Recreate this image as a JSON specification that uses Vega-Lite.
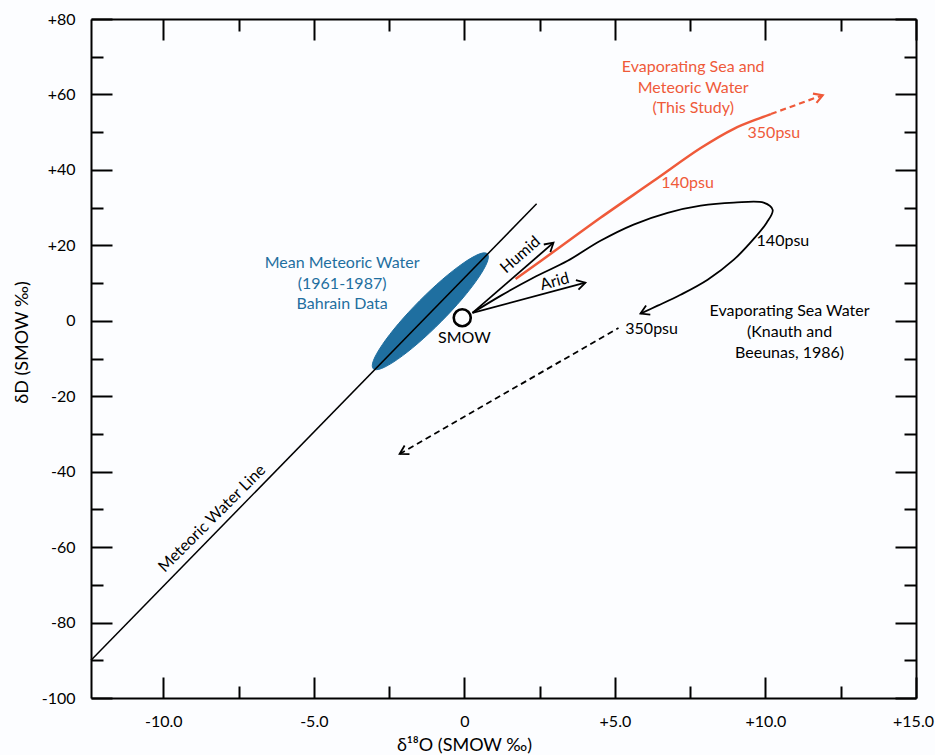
{
  "$schema": "https://vega.github.io/schema/vega-lite/v6.json",
  "width": 825,
  "height": 679,
  "autosize": {"type": "none"},
  "padding": {"left": 91, "top": 19, "right": 19, "bottom": 57},
  "background": "#fcfdff",
  "config": {
    "view": {"stroke": null},
    "font": "Lato",
    "axis": {
      "grid": false,
      "domainColor": "black",
      "domainWidth": 2,
      "tickColor": "black",
      "tickWidth": 2,
      "labelFont": "Lato",
      "labelFontSize": 16,
      "labelColor": "black",
      "titleFont": "Lato",
      "titleFontSize": 18,
      "titleFontWeight": "normal",
      "titleColor": "black",
      "labelFlush": false,
      "labelOverlap": false,
      "labelBound": false
    }
  },
  "datasets": {
    "mwl": [{"x": -12.4, "y": -90}, {"x": 2.4, "y": 31}],
    "ellipse": [
      {"i": 0, "x": 0.765, "y": 17.75},
      {"i": 1, "x": 0.757, "y": 15.52},
      {"i": 2, "x": 0.459, "y": 11.31},
      {"i": 3, "x": -0.076, "y": 5.77},
      {"i": 4, "x": -0.777, "y": -0.28},
      {"i": 5, "x": -1.53, "y": -5.91},
      {"i": 6, "x": -2.221, "y": -10.23},
      {"i": 7, "x": -2.747, "y": -12.64},
      {"i": 8, "x": -3.026, "y": -12.72},
      {"i": 9, "x": -3.018, "y": -10.49},
      {"i": 10, "x": -2.72, "y": -6.28},
      {"i": 11, "x": -2.185, "y": -0.74},
      {"i": 12, "x": -1.485, "y": 5.31},
      {"i": 13, "x": -0.732, "y": 10.94},
      {"i": 14, "x": -0.04, "y": 15.26},
      {"i": 15, "x": 0.486, "y": 17.67}
    ],
    "loop": [
      {"i": 0, "x": 0.27, "y": 2.1},
      {"i": 1, "x": 1.2, "y": 6.6},
      {"i": 2, "x": 2.29, "y": 11.4},
      {"i": 3, "x": 3.43, "y": 15.9},
      {"i": 4, "x": 4.52, "y": 21.2},
      {"i": 5, "x": 5.62, "y": 25.5},
      {"i": 6, "x": 6.75, "y": 28.6},
      {"i": 7, "x": 7.85, "y": 30.5},
      {"i": 8, "x": 8.95, "y": 31.3},
      {"i": 9, "x": 9.94, "y": 31.3},
      {"i": 10, "x": 10.24, "y": 29.4},
      {"i": 11, "x": 10.04, "y": 26.0},
      {"i": 12, "x": 9.61, "y": 21.7},
      {"i": 13, "x": 8.95, "y": 16.2},
      {"i": 14, "x": 8.08, "y": 10.9},
      {"i": 15, "x": 7.18, "y": 6.9},
      {"i": 16, "x": 6.42, "y": 4.0},
      {"i": 17, "x": 5.85, "y": 1.9}
    ],
    "red": [
      {"i": 0, "x": 1.7, "y": 11.1},
      {"i": 1, "x": 3.19, "y": 19.6},
      {"i": 2, "x": 4.52, "y": 27.3},
      {"i": 3, "x": 6.29, "y": 37.1},
      {"i": 4, "x": 7.85, "y": 45.8},
      {"i": 5, "x": 8.95, "y": 50.9},
      {"i": 6, "x": 9.84, "y": 53.8},
      {"i": 7, "x": 10.18, "y": 54.8}
    ]
  },
  "resolve": {"axis": {"x": "independent", "y": "independent"}},
  "layer": [
    {
      "data": {"name": "ellipse"},
      "mark": {"type": "line", "fill": "#1f6fa0", "stroke": "#1f6fa0", "strokeWidth": 1, "interpolate": "cardinal-closed"},
      "encoding": {
        "x": {"field": "x", "type": "quantitative", "scale": {"domain": [-12.4, 15], "nice": false, "zero": false},
          "axis": {"orient": "bottom", "values": [-10, -5, 0, 5, 10, 15], "tickSize": -21, "labelPadding": 36,
            "labelOffset": {"condition": {"test": "datum.value == 15", "value": -3}, "value": 0},
            "labelExpr": "(datum.value > 0 ? '+' : (datum.value < 0 ? '-' : '')) + (datum.value == 0 ? '0' : format(abs(datum.value), '.1f'))",
            "title": "δ¹⁸O (SMOW ‰)", "titleX": 373, "titleY": 47, "titleBaseline": "middle"}},
        "y": {"field": "y", "type": "quantitative", "scale": {"domain": [-100, 80], "nice": false, "zero": false},
          "axis": {"orient": "left", "values": [-100, -80, -60, -40, -20, 0, 20, 40, 60, 80], "tickSize": -21, "labelPadding": 37,
            "labelExpr": "(datum.value > 0 ? '+' : (datum.value < 0 ? '-' : '')) + format(abs(datum.value), 'd')",
            "title": "δD (SMOW ‰)", "titleX": -69, "titleY": 323, "titleBaseline": "middle", "titleAngle": -90}},
        "order": {"field": "i", "type": "quantitative"}
      }
    },
    {
      "data": {"name": "mwl"},
      "mark": {"type": "line", "color": "black", "strokeWidth": 1.5},
      "encoding": {
        "x": {"field": "x", "type": "quantitative", "scale": {"domain": [-12.4, 15], "nice": false, "zero": false},
          "axis": {"orient": "bottom", "values": [-7.5, -2.5, 2.5, 7.5, 12.5], "tickSize": -12, "labels": false, "domain": false, "title": null}},
        "y": {"field": "y", "type": "quantitative", "scale": {"domain": [-100, 80], "nice": false, "zero": false},
          "axis": {"orient": "left", "values": [-90, -70, -50, -30, -10, 10, 30, 50, 70], "tickSize": -12, "labels": false, "domain": false, "title": null}}
      }
    },
    {
      "data": {"name": "loop"},
      "mark": {"type": "line", "color": "black", "strokeWidth": 1.8, "interpolate": "catmull-rom"},
      "encoding": {
        "x": {"field": "x", "type": "quantitative", "scale": {"domain": [-12.4, 15], "nice": false, "zero": false},
          "axis": {"orient": "top", "values": [-10, -5, 0, 5, 10, 15], "tickSize": -21, "labels": false, "title": null}},
        "y": {"field": "y", "type": "quantitative", "scale": {"domain": [-100, 80], "nice": false, "zero": false},
          "axis": {"orient": "right", "values": [-100, -80, -60, -40, -20, 0, 20, 40, 60, 80], "tickSize": -21, "labels": false, "title": null}},
        "order": {"field": "i", "type": "quantitative"}
      }
    },
    {
      "data": {"name": "red"},
      "mark": {"type": "line", "color": "#ef5a3a", "strokeWidth": 2.5, "interpolate": "catmull-rom"},
      "encoding": {
        "x": {"field": "x", "type": "quantitative", "scale": {"domain": [-12.4, 15], "nice": false, "zero": false},
          "axis": {"orient": "top", "values": [-7.5, -2.5, 2.5, 7.5, 12.5], "tickSize": -12, "labels": false, "domain": false, "title": null}},
        "y": {"field": "y", "type": "quantitative", "scale": {"domain": [-100, 80], "nice": false, "zero": false},
          "axis": {"orient": "right", "values": [-90, -70, -50, -30, -10, 10, 30, 50, 70], "tickSize": -12, "labels": false, "domain": false, "title": null}},
        "order": {"field": "i", "type": "quantitative"}
      }
    },
    {
      "data": {"values": [{"x": 10.18, "y": 54.8}, {"x": 11.9, "y": 59.8}]},
      "mark": {"type": "line", "color": "#ef5a3a", "strokeWidth": 2.2, "strokeDash": [6, 4]},
      "encoding": {
        "x": {"field": "x", "type": "quantitative", "axis": null},
        "y": {"field": "y", "type": "quantitative", "axis": null}
      }
    },
    {
      "data": {"values": [{"x": 0.27, "y": 2.1}, {"x": 2.96, "y": 20.7}]},
      "mark": {"type": "line", "color": "black", "strokeWidth": 1.8},
      "encoding": {
        "x": {"field": "x", "type": "quantitative", "axis": null},
        "y": {"field": "y", "type": "quantitative", "axis": null}
      }
    },
    {
      "data": {"values": [{"x": 0.27, "y": 2.1}, {"x": 4.02, "y": 10.1}]},
      "mark": {"type": "line", "color": "black", "strokeWidth": 1.8},
      "encoding": {
        "x": {"field": "x", "type": "quantitative", "axis": null},
        "y": {"field": "y", "type": "quantitative", "axis": null}
      }
    },
    {
      "data": {"values": [{"x": 5.12, "y": -1.9}, {"x": -2.15, "y": -35.3}]},
      "mark": {"type": "line", "color": "black", "strokeWidth": 1.8, "strokeDash": [6, 4]},
      "encoding": {
        "x": {"field": "x", "type": "quantitative", "axis": null},
        "y": {"field": "y", "type": "quantitative", "axis": null}
      }
    },
    {
      "data": {"values": [{"x": 2.96, "y": 20.7}]},
      "mark": {"type": "point", "shape": "M-1.7,-1L0,0L-1.7,1", "filled": false, "stroke": "black", "strokeWidth": 1.8, "size": 100, "angle": 319, "opacity": 1},
      "encoding": {"x": {"field": "x", "type": "quantitative", "axis": null}, "y": {"field": "y", "type": "quantitative", "axis": null}}
    },
    {
      "data": {"values": [{"x": 4.02, "y": 10.1}]},
      "mark": {"type": "point", "shape": "M-1.7,-1L0,0L-1.7,1", "filled": false, "stroke": "black", "strokeWidth": 1.8, "size": 100, "angle": 345, "opacity": 1},
      "encoding": {"x": {"field": "x", "type": "quantitative", "axis": null}, "y": {"field": "y", "type": "quantitative", "axis": null}}
    },
    {
      "data": {"values": [{"x": 5.85, "y": 1.9}]},
      "mark": {"type": "point", "shape": "M-1.7,-1L0,0L-1.7,1", "filled": false, "stroke": "black", "strokeWidth": 1.8, "size": 100, "angle": 155, "opacity": 1},
      "encoding": {"x": {"field": "x", "type": "quantitative", "axis": null}, "y": {"field": "y", "type": "quantitative", "axis": null}}
    },
    {
      "data": {"values": [{"x": -2.15, "y": -35.3}]},
      "mark": {"type": "point", "shape": "M-1.7,-1L0,0L-1.7,1", "filled": false, "stroke": "black", "strokeWidth": 1.8, "size": 100, "angle": 151, "opacity": 1},
      "encoding": {"x": {"field": "x", "type": "quantitative", "axis": null}, "y": {"field": "y", "type": "quantitative", "axis": null}}
    },
    {
      "data": {"values": [{"x": 11.9, "y": 59.8}]},
      "mark": {"type": "point", "shape": "M-1.7,-1L0,0L-1.7,1", "filled": false, "stroke": "#ef5a3a", "strokeWidth": 2.2, "size": 100, "angle": 339, "opacity": 1},
      "encoding": {"x": {"field": "x", "type": "quantitative", "axis": null}, "y": {"field": "y", "type": "quantitative", "axis": null}}
    },
    {
      "data": {"values": [{"x": -0.07, "y": 0.8}]},
      "mark": {"type": "point", "shape": "circle", "filled": false, "stroke": "black", "strokeWidth": 2.6, "size": 290, "opacity": 1},
      "encoding": {"x": {"field": "x", "type": "quantitative", "axis": null}, "y": {"field": "y", "type": "quantitative", "axis": null}}
    },
    {
      "data": {"values": [
        {"x": 0.0, "y": -4.5, "t": "SMOW"},
        {"x": 10.58, "y": 21.2, "t": "140psu"},
        {"x": 6.22, "y": -2.1, "t": "350psu"},
        {"x": 10.8, "y": 2.6, "t": "Evaporating Sea Water"},
        {"x": 10.8, "y": -2.9, "t": "(Knauth and"},
        {"x": 10.8, "y": -8.5, "t": "Beeunas, 1986)"}
      ]},
      "mark": {"type": "text", "font": "Lato", "fontSize": 16, "color": "black", "align": "center", "baseline": "middle"},
      "encoding": {"x": {"field": "x", "type": "quantitative", "axis": null}, "y": {"field": "y", "type": "quantitative", "axis": null}, "text": {"field": "t"}}
    },
    {
      "data": {"values": [
        {"x": 7.6, "y": 67.3, "t": "Evaporating Sea and"},
        {"x": 7.6, "y": 61.7, "t": "Meteoric Water"},
        {"x": 7.6, "y": 56.4, "t": "(This Study)"},
        {"x": 10.28, "y": 49.8, "t": "350psu"},
        {"x": 7.41, "y": 36.6, "t": "140psu"}
      ]},
      "mark": {"type": "text", "font": "Lato", "fontSize": 16, "color": "#ef5a3a", "align": "center", "baseline": "middle"},
      "encoding": {"x": {"field": "x", "type": "quantitative", "axis": null}, "y": {"field": "y", "type": "quantitative", "axis": null}, "text": {"field": "t"}}
    },
    {
      "data": {"values": [
        {"x": -4.06, "y": 15.4, "t": "Mean Meteoric Water"},
        {"x": -4.06, "y": 9.8, "t": "(1961-1987)"},
        {"x": -4.06, "y": 4.5, "t": "Bahrain Data"}
      ]},
      "mark": {"type": "text", "font": "Lato", "fontSize": 16, "color": "#1f6fa0", "align": "center", "baseline": "middle"},
      "encoding": {"x": {"field": "x", "type": "quantitative", "axis": null}, "y": {"field": "y", "type": "quantitative", "axis": null}, "text": {"field": "t"}}
    },
    {
      "data": {"values": [{"x": 1.86, "y": 17.5, "t": "Humid"}]},
      "mark": {"type": "text", "font": "Lato", "fontSize": 16, "color": "black", "align": "center", "baseline": "middle", "angle": 319},
      "encoding": {"x": {"field": "x", "type": "quantitative", "axis": null}, "y": {"field": "y", "type": "quantitative", "axis": null}, "text": {"field": "t"}}
    },
    {
      "data": {"values": [{"x": 3.0, "y": 10.4, "t": "Arid"}]},
      "mark": {"type": "text", "font": "Lato", "fontSize": 16, "color": "black", "align": "center", "baseline": "middle", "angle": 345},
      "encoding": {"x": {"field": "x", "type": "quantitative", "axis": null}, "y": {"field": "y", "type": "quantitative", "axis": null}, "text": {"field": "t"}}
    },
    {
      "data": {"values": [{"x": -8.38, "y": -52.4, "t": "Meteoric Water Line"}]},
      "mark": {"type": "text", "font": "Lato", "fontSize": 16, "color": "black", "align": "center", "baseline": "middle", "angle": 315},
      "encoding": {"x": {"field": "x", "type": "quantitative", "axis": null}, "y": {"field": "y", "type": "quantitative", "axis": null}, "text": {"field": "t"}}
    }
  ]
}
